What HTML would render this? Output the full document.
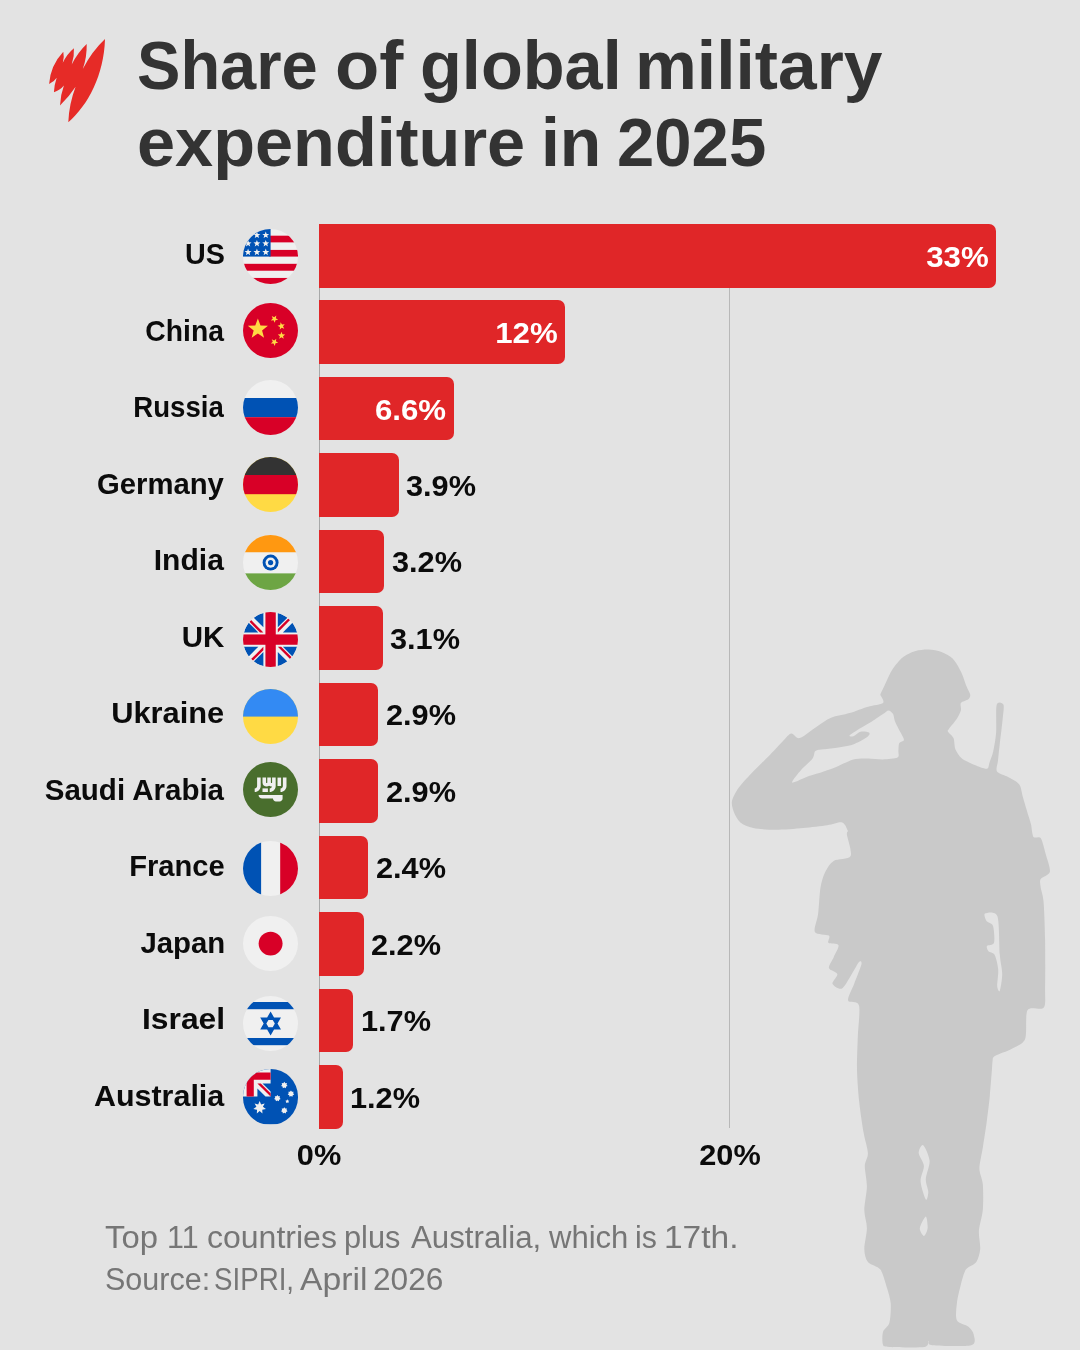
<!DOCTYPE html>
<html lang="en">
<head>
<meta charset="utf-8">
<title>Share of global military expenditure in 2025</title>
<style>
html,body{margin:0;padding:0}
body{width:1080px;height:1350px;position:relative;overflow:hidden;background:#e3e3e3;font-family:"Liberation Sans",sans-serif;}
.abs{position:absolute}
h1,p{margin:0;padding:0;font:inherit}
.t{position:absolute;white-space:nowrap;line-height:1;display:block}
.title{font-size:69px;font-weight:700;color:#333;transform-origin:0 50%;transform:scaleX(.9762)}
.name{font-weight:700;font-size:29.5px;color:#0b0b0b;right:856px;transform-origin:100% 50%;text-align:right}
.val{font-weight:700;font-size:29.3px;color:#0b0b0b;transform-origin:0 50%;transform:scaleX(1.048)}
.val.in{color:#fff;font-size:30.3px;transform-origin:100% 50%;transform:scaleX(1.03)}
.bar{position:absolute;left:319.0px;height:63.7px;background:#e02628;border-radius:0 7px 7px 0}
.grid{position:absolute;width:1px;background:#b8b8b8}
.axis{font-weight:700;font-size:29.3px;color:#0b0b0b;text-align:center;width:120px;transform:scaleX(1.048)}
.foot{font-size:31px;color:#767676;transform-origin:0 50%}
.flag{position:absolute;width:55.2px;height:55.2px;border-radius:50%;overflow:hidden}
.flag svg{display:block;width:100%;height:100%}
</style>
</head>
<body>
<svg class="abs" style="left:0;top:0" width="1080" height="1350" viewBox="0 0 1080 1350"><path fill="#c9c9c9" fill-rule="evenodd" d="M880.4,694.6C881.1,692.7 884.2,686.2 885.9,682.6C887.6,679.0 890.0,673.2 892.4,669.6C894.8,666.0 899.3,660.2 902.6,657.6C905.9,655.0 911.9,652.2 915.6,651.1C919.3,650.0 924.8,649.5 928.5,649.6C932.2,649.7 938.1,650.7 941.5,652.0C944.9,653.3 949.8,655.7 952.6,658.5C955.4,661.3 958.9,667.5 960.9,671.5C962.9,675.5 965.2,683.0 966.5,686.3C967.8,689.6 969.9,692.7 970.2,694.6C970.5,696.5 969.6,698.1 968.3,699.3C967.0,700.5 962.0,701.4 960.9,703.0C959.8,704.6 961.6,708.0 960.9,710.4C960.2,712.8 958.0,717.0 956.3,719.6C954.6,722.2 950.1,727.2 948.9,728.9C947.7,730.6 947.3,730.4 948.0,731.7C948.7,733.0 952.4,735.6 953.5,738.1C954.6,740.6 954.2,746.4 955.4,749.3C956.6,752.2 959.1,756.3 961.9,758.5C964.7,760.7 971.2,763.5 974.8,765.0C978.4,766.5 984.8,769.1 986.9,768.7C989.0,768.3 988.7,764.7 989.6,762.2C990.5,759.7 992.4,755.3 993.3,751.1C994.2,746.9 995.6,739.2 996.1,732.6C996.6,726.0 995.6,708.8 996.7,704.8C997.8,700.8 1002.7,702.7 1003.5,704.8C1004.3,706.9 1003.1,714.0 1002.6,719.6C1002.1,725.2 1000.5,737.9 999.8,743.7C999.1,749.5 998.4,756.4 998.0,760.4C997.6,764.4 995.6,769.1 997.0,771.5C998.4,773.9 1004.9,775.2 1008.1,777.0C1011.3,778.8 1017.2,781.5 1019.3,784.4C1021.4,787.3 1021.7,792.9 1023.0,797.4C1024.3,801.9 1027.3,812.0 1028.5,815.9C1029.7,819.8 1030.4,821.8 1031.1,824.8C1031.8,827.8 1032.1,835.0 1033.5,836.9C1034.9,838.8 1039.0,835.7 1040.7,838.1C1042.4,840.5 1044.3,848.9 1045.6,853.7C1046.9,858.5 1050.6,868.2 1049.9,871.8C1049.2,875.4 1042.0,876.8 1040.7,879.0C1039.4,881.2 1040.3,884.1 1040.7,887.4C1041.1,890.7 1043.0,894.3 1043.6,901.9C1044.2,909.5 1044.9,928.0 1045.1,940.4C1045.3,952.8 1045.3,978.9 1045.1,988.5C1044.9,998.1 1046.1,1004.7 1043.6,1007.8C1041.1,1010.9 1030.1,1005.7 1027.5,1010.2C1024.9,1014.7 1027.3,1033.6 1025.1,1039.1C1022.9,1044.6 1016.2,1046.3 1011.9,1048.7C1007.6,1051.1 997.8,1054.2 995.0,1055.9C992.2,1057.6 993.0,1058.7 992.6,1060.7C992.2,1062.7 992.3,1065.0 991.9,1070.0C991.5,1075.0 990.5,1088.5 989.8,1095.9C989.1,1103.3 987.7,1114.5 986.7,1121.9C985.7,1129.3 983.8,1141.1 982.8,1147.8C981.8,1154.5 979.4,1163.3 979.4,1168.5C979.4,1173.7 982.3,1178.2 982.8,1184.1C983.3,1190.0 983.4,1203.3 982.8,1210.0C982.2,1216.7 979.3,1225.1 978.9,1230.7C978.5,1236.3 980.6,1244.4 980.2,1248.9C979.8,1253.4 978.3,1258.9 976.3,1261.9C974.3,1264.9 968.1,1266.3 965.9,1269.6C963.7,1272.9 962.0,1280.4 960.7,1285.2C959.4,1290.0 957.4,1298.3 956.9,1303.3C956.4,1308.3 955.2,1316.9 956.9,1320.2C958.6,1323.5 966.1,1324.7 968.5,1326.7C970.9,1328.7 973.3,1331.8 973.7,1334.5C974.1,1337.2 977.0,1343.8 971.1,1345.3C965.2,1346.8 938.3,1345.9 932.2,1345.3C926.1,1344.7 929.4,1340.7 928.3,1340.9C927.2,1341.1 930.0,1346.0 924.4,1346.9C918.8,1347.8 895.3,1347.2 889.4,1346.9C883.5,1346.6 883.9,1346.9 883.0,1344.8C882.1,1342.7 882.1,1335.0 883.0,1331.9C883.9,1328.8 888.3,1326.9 889.4,1322.8C890.5,1318.7 891.1,1308.3 890.7,1303.3C890.3,1298.3 888.4,1292.6 886.9,1287.8C885.4,1283.0 883.1,1273.3 880.4,1269.6C877.7,1265.9 870.2,1264.9 867.9,1261.9C865.6,1258.9 864.4,1253.7 864.3,1248.9C864.2,1244.1 866.9,1233.8 866.9,1228.2C866.9,1222.6 864.3,1215.9 864.3,1210.0C864.3,1204.1 866.8,1193.0 866.9,1186.7C867.0,1180.4 864.7,1170.7 864.8,1165.9C864.9,1161.1 868.1,1157.8 867.9,1153.0C867.7,1148.2 864.8,1139.6 863.5,1132.2C862.2,1124.8 860.0,1110.0 859.1,1101.1C858.2,1092.2 857.2,1079.2 857.0,1070.0C856.8,1060.8 857.5,1045.9 857.8,1036.7C858.1,1027.5 860.4,1010.6 859.0,1005.4C857.6,1000.2 848.8,1003.7 848.1,1000.6C847.4,997.5 852.3,988.9 854.2,983.7C856.1,978.5 860.7,967.5 861.4,964.4C862.1,961.3 860.4,960.6 859.0,962.0C857.6,963.4 854.2,970.3 851.8,974.1C849.4,977.9 844.9,987.1 842.1,988.5C839.3,989.9 833.2,985.8 832.5,983.7C831.8,981.6 837.8,976.3 837.3,974.1C836.8,971.9 829.4,970.5 828.9,968.1C828.4,965.7 832.3,960.5 833.7,957.2C835.1,953.9 839.3,947.3 838.5,945.2C837.7,943.1 829.8,944.2 828.4,942.8C827.0,941.4 830.8,937.2 828.9,935.6C827.0,934.0 816.4,935.0 814.9,931.9C813.4,928.8 817.3,920.3 818.1,913.9C818.9,907.5 819.5,893.4 820.5,887.4C821.5,881.4 823.4,875.6 825.3,871.8C827.2,868.0 830.1,863.1 833.7,860.9C837.3,858.7 848.7,859.9 850.6,856.1C852.5,852.3 847.3,838.0 846.9,834.4C846.5,830.8 848.5,832.4 847.8,830.7C847.1,829.0 845.1,823.2 842.2,822.4C839.3,821.6 833.0,824.4 827.4,825.2C821.8,826.0 810.7,827.3 803.3,828.0C795.9,828.7 782.7,829.8 775.6,829.8C768.5,829.8 758.3,829.1 753.3,828.0C748.3,826.9 743.2,824.7 740.4,822.4C737.6,820.1 735.1,815.2 733.9,812.2C732.7,809.2 731.3,804.5 732.0,801.1C732.7,797.7 735.7,792.1 738.5,788.1C741.3,784.1 747.3,777.8 751.5,773.3C755.7,768.8 763.6,761.3 768.1,756.7C772.6,752.1 779.7,744.2 783.0,740.9C786.3,737.6 788.9,733.9 791.3,733.5C793.7,733.1 796.0,739.0 799.6,738.1C803.2,737.2 811.8,729.9 816.3,727.0C820.8,724.1 826.3,719.8 831.1,717.8C835.9,715.8 844.3,714.7 849.6,713.1C854.9,711.5 863.3,708.1 868.1,706.7C872.9,705.3 881.2,704.6 883.0,703.0C884.8,701.4 881.1,696.8 880.7,695.6C880.3,694.4 879.7,696.5 880.4,694.6Z M888.5,710.4C889.9,710.4 892.2,712.5 893.1,714.1C894.0,715.7 893.9,718.9 895.0,721.5C896.1,724.1 899.3,730.0 900.6,732.6C901.9,735.2 904.1,738.5 903.9,740.0C903.7,741.5 900.0,741.7 899.2,743.3C898.4,744.9 898.6,749.1 898.4,751.1C898.2,753.1 899.7,756.4 897.5,757.6C895.3,758.8 887.2,759.3 883.0,759.4C878.8,759.5 872.3,758.5 868.1,758.5C863.9,758.5 857.5,758.3 853.3,759.4C849.1,760.5 842.7,764.2 838.5,765.9C834.3,767.6 827.9,770.0 823.7,771.5C819.5,773.0 813.4,774.5 808.9,776.1C804.4,777.7 793.3,783.5 792.2,782.6C791.1,781.7 798.6,773.0 801.5,769.6C804.4,766.2 810.6,761.1 812.6,758.5C814.6,755.9 813.8,752.4 815.4,751.1C817.0,749.8 820.4,749.8 823.7,749.3C827.0,748.8 834.8,747.9 838.5,747.4C842.2,746.9 846.4,746.5 849.6,745.6C852.8,744.7 858.1,742.2 860.7,740.9C863.3,739.6 866.9,737.5 868.1,736.3C869.3,735.1 870.2,733.3 869.1,732.6C868.0,731.9 863.0,731.2 860.7,731.7C858.4,732.2 854.9,735.8 853.3,736.3C851.7,736.8 848.5,736.6 849.6,735.4C850.7,734.2 857.5,730.0 860.7,728.0C863.9,726.0 868.7,723.5 871.9,721.5C875.1,719.5 880.6,715.7 883.0,714.1C885.4,712.5 887.1,710.4 888.5,710.4Z M985.0,913.5C986.6,912.8 995.3,910.4 997.4,916.3C999.5,922.2 999.1,946.5 999.8,954.8C1000.5,963.1 1002.2,968.9 1002.2,974.1C1002.2,979.3 1000.5,989.2 999.8,990.9C999.1,992.6 997.4,989.2 997.2,986.1C997.0,983.0 998.6,973.8 998.2,969.3C997.8,964.8 996.0,957.4 994.6,954.8C993.2,952.2 989.6,952.5 988.5,951.2C987.4,949.9 986.2,947.2 987.0,946.0C987.8,944.8 993.1,945.7 994.0,942.8C994.9,939.9 994.1,929.0 993.0,925.9C991.9,922.8 987.6,922.9 986.5,921.1C985.4,919.3 983.4,914.2 985.0,913.5Z M923.2,1145.2C924.8,1146.3 929.2,1155.9 929.6,1160.7C930.0,1165.5 926.0,1174.4 925.8,1178.9C925.6,1183.4 928.3,1188.9 928.3,1191.9C928.3,1194.9 926.9,1201.1 925.8,1199.6C924.7,1198.1 920.9,1186.3 920.6,1181.5C920.3,1176.7 924.2,1170.0 923.9,1165.9C923.6,1161.8 918.8,1156.0 918.7,1153.0C918.6,1150.0 921.6,1144.1 923.2,1145.2Z M925.8,1216.5C926.9,1216.5 927.9,1225.4 927.6,1228.2C927.3,1231.0 925.0,1235.9 923.9,1235.9C922.8,1235.9 919.5,1231.0 919.8,1228.2C920.1,1225.4 924.7,1216.5 925.8,1216.5Z"/></svg>
<svg class="abs" style="left:0;top:0" width="160" height="160" viewBox="0 0 160 160"><g fill="#e62b27"><path d="M63.3,51.7Q64.5,57 62.8,62.8Q67,54 73.9,48.3Q74.5,56 71.7,64.4Q78,52 86.7,43.9Q87,57 82.8,68.9Q92,51 105,38.9C104,75 88,105 68.3,122.2Q69,104 75.6,86.7Q69.5,96 60,105.6Q60.5,95 63.9,85.6Q60,90.5 53.9,92.2Q54.2,85 56.7,77.8Q54,82 49.1,83.9Q50.5,65.3 63.3,51.7Z"/></g></svg>
<h1><span class="t title" style="left:137.17px;top:31.4px;transform:scaleX(0.9425)">Share</span> <span class="t title" style="left:335.37px;top:31.4px;transform:scaleX(1.0512)">of</span> <span class="t title" style="left:420.35px;top:31.4px;transform:scaleX(0.9931)">global</span> <span class="t title" style="left:634.54px;top:31.4px;transform:scaleX(1.0081)">military</span>
<span class="t title" style="left:136.63px;top:107.5px;transform:scaleX(0.9926)">expenditure</span> <span class="t title" style="left:541.34px;top:107.5px;transform:scaleX(0.9844)">in</span> <span class="t title" style="left:617.36px;top:107.5px;transform:scaleX(0.9719)">2025</span></h1>
<div class="grid" style="left:729px;top:224px;height:904px"></div>
<div class="grid" style="left:319px;top:224px;height:905px;background:#a8a8a8"></div>

<div class="bar" style="top:223.9px;width:677.3px"></div>
<div class="t name" style="top:239.3px;right:855.3px;transform:scaleX(0.974)">US</div>
<div class="flag" style="left:242.9px;top:229.2px"><svg viewBox="0 0 512 512"><rect width="512" height="512" fill="#f0f0f0"/>
<g fill="#d80027"><rect x="244" y="62" width="268" height="62"/><rect x="244" y="194" width="268" height="62"/><rect x="0" y="323" width="512" height="64"/><rect x="0" y="454" width="512" height="58"/></g>
<rect width="256" height="256" fill="#0052b4"/>
<g fill="#f0f0f0"><polygon points="47.0,23.0 55.4,45.4 79.3,46.5 60.6,61.4 67.0,84.5 47.0,71.3 27.0,84.5 33.4,61.4 14.7,46.5 38.6,45.4"/><polygon points="129.0,23.0 137.4,45.4 161.3,46.5 142.6,61.4 149.0,84.5 129.0,71.3 109.0,84.5 115.4,61.4 96.7,46.5 120.6,45.4"/><polygon points="211.0,23.0 219.4,45.4 243.3,46.5 224.6,61.4 231.0,84.5 211.0,71.3 191.0,84.5 197.4,61.4 178.7,46.5 202.6,45.4"/><polygon points="47.0,101.0 55.4,123.4 79.3,124.5 60.6,139.4 67.0,162.5 47.0,149.3 27.0,162.5 33.4,139.4 14.7,124.5 38.6,123.4"/><polygon points="129.0,101.0 137.4,123.4 161.3,124.5 142.6,139.4 149.0,162.5 129.0,149.3 109.0,162.5 115.4,139.4 96.7,124.5 120.6,123.4"/><polygon points="211.0,101.0 219.4,123.4 243.3,124.5 224.6,139.4 231.0,162.5 211.0,149.3 191.0,162.5 197.4,139.4 178.7,124.5 202.6,123.4"/><polygon points="47.0,181.0 55.4,203.4 79.3,204.5 60.6,219.4 67.0,242.5 47.0,229.3 27.0,242.5 33.4,219.4 14.7,204.5 38.6,203.4"/><polygon points="129.0,181.0 137.4,203.4 161.3,204.5 142.6,219.4 149.0,242.5 129.0,229.3 109.0,242.5 115.4,219.4 96.7,204.5 120.6,203.4"/><polygon points="211.0,181.0 219.4,203.4 243.3,204.5 224.6,219.4 231.0,242.5 211.0,229.3 191.0,242.5 197.4,219.4 178.7,204.5 202.6,203.4"/></g></svg></div>
<div class="t val in" style="right:91.2px;top:241.65px">33%</div>
<div class="bar" style="top:300.4px;width:246.0px"></div>
<div class="t name" style="top:315.8px;right:856.0px;transform:scaleX(0.959)">China</div>
<div class="flag" style="left:242.9px;top:302.7px"><svg viewBox="0 0 512 512"><rect width="512" height="512" fill="#d80027"/>
<g fill="#ffda44"><polygon points="138.0,144.0 162.2,208.7 231.2,211.7 177.1,254.7 195.6,321.3 138.0,283.2 80.4,321.3 98.9,254.7 44.8,211.7 113.8,208.7"/><polygon points="309.0,116.8 304.8,141.9 326.2,155.5 301.1,159.2 294.8,183.8 283.4,161.1 258.1,162.6 276.2,144.9 266.9,121.2 289.4,133.0"/><polygon points="387.2,196.0 371.0,215.6 382.8,238.1 359.1,228.8 341.4,246.9 342.9,221.6 320.2,210.2 344.8,203.9 348.5,178.8 362.1,200.2"/><polygon points="357.0,267.0 365.9,290.8 391.2,291.9 371.4,307.7 378.2,332.1 357.0,318.1 335.8,332.1 342.6,307.7 322.8,291.9 348.1,290.8"/><polygon points="309.0,330.8 304.8,355.9 326.2,369.5 301.1,373.2 294.8,397.8 283.4,375.1 258.1,376.6 276.2,358.9 266.9,335.2 289.4,347.0"/></g></svg></div>
<div class="t val in" style="right:522.5px;top:318.12px">12%</div>
<div class="bar" style="top:376.8px;width:134.8px"></div>
<div class="t name" style="top:392.2px;right:856.0px;transform:scaleX(0.935)">Russia</div>
<div class="flag" style="left:242.9px;top:379.9px"><svg viewBox="0 0 512 512"><rect width="512" height="512" fill="#f0f0f0"/><rect y="167" width="512" height="178" fill="#0052b4"/><rect y="345" width="512" height="167" fill="#d80027"/></svg></div>
<div class="t val in" style="right:633.7px;top:394.59px">6.6%</div>
<div class="bar" style="top:453.3px;width:79.7px"></div>
<div class="t name" style="top:468.7px;right:856.0px;transform:scaleX(0.992)">Germany</div>
<div class="flag" style="left:242.9px;top:456.9px"><svg viewBox="0 0 512 512"><rect width="512" height="512" fill="#ffda44"/><rect width="512" height="167" fill="#333"/><rect y="167" width="512" height="178" fill="#d80027"/></svg></div>
<div class="t val" style="left:406.2px;top:470.7px">3.9%</div>
<div class="bar" style="top:529.8px;width:65.3px"></div>
<div class="t name" style="top:545.2px;right:856.0px;transform:scaleX(1.018)">India</div>
<div class="flag" style="left:242.9px;top:535.2px"><svg viewBox="0 0 512 512"><rect width="512" height="512" fill="#f0f0f0"/><rect width="512" height="160" fill="#ff9811"/><rect y="356" width="512" height="156" fill="#6da544"/>
<circle cx="256" cy="256" r="74" fill="#0052b4"/><circle cx="256" cy="256" r="47" fill="#f0f0f0"/><circle cx="256" cy="256" r="24" fill="#0052b4"/></svg></div>
<div class="t val" style="left:391.8px;top:547.2px">3.2%</div>
<div class="bar" style="top:606.2px;width:63.5px"></div>
<div class="t name" style="top:621.6px;right:855.6px;transform:scaleX(1.0)">UK</div>
<div class="flag" style="left:242.9px;top:611.7px"><svg viewBox="0 0 512 512"><rect width="512" height="512" fill="#f0f0f0"/>
<g fill="#0052b4">
<path d="M52.9,100.1c-20.1,26.2-35.3,56.3-44.1,89.1h133.2L52.9,100.1z"/>
<path d="M503.2,189.2c-8.8-32.8-24-62.9-44.1-89.1l-89.1,89.1H503.2z"/>
<path d="M8.8,322.8c8.8,32.8,24,62.9,44.1,89.1l89.1-89.1H8.8z"/>
<path d="M411.9,52.9c-26.2-20.1-56.3-35.3-89.1-44.1v133.2L411.9,52.9z"/>
<path d="M100.1,459.1c26.2,20.1,56.3,35.3,89.1,44.1V370L100.1,459.1z"/>
<path d="M189.2,8.8c-32.8,8.8-62.9,24-89.1,44.1l89.1,89.1V8.8z"/>
<path d="M322.8,503.2c32.8-8.8,62.9-24,89.1-44.1l-89.1-89.1V503.2z"/>
<path d="M370,322.8l89.1,89.1c20.1-26.2,35.3-56.3,44.1-89.1H370z"/>
</g>
<g fill="#d80027">
<rect x="208" y="0" width="96" height="512"/><rect x="0" y="208" width="512" height="96"/>
<path d="M322.8,322.8L437,437c5.3-5.3,10.3-10.7,15-16.4l-97.8-97.8H322.8z"/>
<path d="M189.2,322.8L75,437c5.3,5.3,10.7,10.3,16.4,15l97.8-97.8V322.8z"/>
<path d="M189.2,189.2L75,75c-5.3,5.3-10.3,10.7-15,16.4l97.8,97.8H189.2z"/>
<path d="M322.8,189.2L437,75c-5.3-5.3-10.7-10.3-16.4-15l-97.8,97.8V189.2z"/>
</g></svg></div>
<div class="t val" style="left:390.0px;top:623.6px">3.1%</div>
<div class="bar" style="top:682.7px;width:59.0px"></div>
<div class="t name" style="top:698.1px;right:855.6px;transform:scaleX(1.045)">Ukraine</div>
<div class="flag" style="left:242.9px;top:689.1px"><svg viewBox="0 0 512 512"><rect width="512" height="512" fill="#ffda44"/><rect width="512" height="256" fill="#338af3"/></svg></div>
<div class="t val" style="left:385.5px;top:700.1px">2.9%</div>
<div class="bar" style="top:759.2px;width:59.3px"></div>
<div class="t name" style="top:774.6px;right:856.0px;transform:scaleX(1.0)">Saudi Arabia</div>
<div class="flag" style="left:242.9px;top:762.0px"><svg viewBox="0 0 512 512"><rect width="512" height="512" fill="#496e2d"/>
<g fill="#f0f0f0">
<path d="M144.7,306.1c0,18.4,15,33.4,33.4,33.4h100.2c0,15.4,12.5,27.8,27.8,27.8h33.4c15.4,0,27.8-12.5,27.8-27.8v-33.4H144.7z"/>
<path d="M370.1,144.7v77.9c0,12.3-10,22.3-22.3,22.3v33.4c30.7,0,55.7-25,55.7-55.7v-77.9H370.1z"/>
<path d="M130.8,222.6c0,12.3-10,22.3-22.3,22.3v33.4c30.7,0,55.7-25,55.7-55.7v-77.9h-33.4V222.6z"/>
<rect x="320" y="144.7" width="33.4" height="77.9"/>
<path d="M269.9,189.2c0,3.1-2.5,5.6-5.6,5.6s-5.6-2.5-5.6-5.6v-44.5h-33.4v44.5c0,3.1-2.5,5.6-5.6,5.6s-5.6-2.5-5.6-5.6v-44.5h-33.4v44.5c0,21.5,17.5,39,39,39c8.3,0,15.9-2.6,22.3-7c6.3,4.4,14,7,22.3,7c1.7,0,3.3-0.1,4.9-0.3c-2.4,9.7-11.1,17-21.6,17v33.4c30.7,0,55.7-25,55.7-55.7v-33.4v-44.5h-33.4V189.2z"/>
<rect x="180.9" y="244.9" width="50.1" height="33.4"/>
</g></svg></div>
<div class="t val" style="left:385.8px;top:776.6px">2.9%</div>
<div class="bar" style="top:835.7px;width:49.0px"></div>
<div class="t name" style="top:851.1px;right:855.4px;transform:scaleX(0.988)">France</div>
<div class="flag" style="left:242.9px;top:841.0px"><svg viewBox="0 0 512 512"><rect width="512" height="512" fill="#f0f0f0"/><rect width="168" height="512" fill="#0052b4"/><rect x="345" width="167" height="512" fill="#d80027"/></svg></div>
<div class="t val" style="left:375.5px;top:853.1px">2.4%</div>
<div class="bar" style="top:912.1px;width:44.9px"></div>
<div class="t name" style="top:927.5px;right:854.3px;transform:scaleX(0.995)">Japan</div>
<div class="flag" style="left:242.9px;top:915.7px"><svg viewBox="0 0 512 512"><rect width="512" height="512" fill="#f0f0f0"/><circle cx="256" cy="256" r="111" fill="#d80027"/></svg></div>
<div class="t val" style="left:371.4px;top:929.5px">2.2%</div>
<div class="bar" style="top:988.6px;width:34.4px"></div>
<div class="t name" style="top:1004.0px;right:854.5px;transform:scaleX(1.078)">Israel</div>
<div class="flag" style="left:242.9px;top:995.5px"><svg viewBox="0 0 512 512"><rect width="512" height="512" fill="#f0f0f0"/>
<g fill="#0052b4"><rect y="55.7" width="512" height="66.8"/><rect y="389.6" width="512" height="66.8"/>
<path fill-rule="evenodd" d="M352.4,200.3H288.1L256,144.7l-32.1,55.7h-64.3L191.7,256l-32.1,55.7h64.3L256,367.3l32.1-55.7h64.3L320.3,256L352.4,200.3z M295.5,256l-19.7,34.2h-39.5L216.5,256l19.7-34.2h39.5L295.5,256z"/></g></svg></div>
<div class="t val" style="left:360.9px;top:1006.0px">1.7%</div>
<div class="bar" style="top:1065.1px;width:23.9px"></div>
<div class="t name" style="top:1080.5px;right:856.0px;transform:scaleX(1.032)">Australia</div>
<div class="flag" style="left:242.9px;top:1069.4px"><svg viewBox="0 0 512 512"><rect width="512" height="512" fill="#0052b4"/>
<path fill="#f0f0f0" d="M0,0H256V133.6H180.8L256,208.8V256H208.8L133.6,180.8V256H0z"/>
<g fill="#d80027"><path d="M33.4,33.4H256V100.2H100.2V256H33.4z"/><path d="M256,224.5l-91-91h-31.5L256,256z"/></g>
<g fill="#f0f0f0"><polygon points="154.4,298.0 167.9,330.1 201.3,320.6 184.6,351.1 212.9,371.4 178.6,377.3 180.4,412.1 154.4,389.0 128.4,412.1 130.2,377.3 95.9,371.4 124.2,351.1 107.5,320.6 140.9,330.1"/><polygon points="383.3,355.0 392.4,367.1 407.5,366.7 403.8,381.3 413.5,392.9 399.7,399.1 396.8,413.9 383.3,407.0 369.8,413.9 366.9,399.1 353.1,392.9 362.8,381.3 359.1,366.7 374.2,367.1"/><polygon points="319.0,241.0 328.1,253.1 343.2,252.7 339.5,267.3 349.2,278.9 335.4,285.1 332.5,299.9 319.0,293.0 305.5,299.9 302.6,285.1 288.8,278.9 298.5,267.3 294.8,252.7 309.9,253.1"/><polygon points="383.3,119.0 392.4,131.1 407.5,130.7 403.8,145.3 413.5,156.9 399.7,163.1 396.8,177.9 383.3,171.0 369.8,177.9 366.9,163.1 353.1,156.9 362.8,145.3 359.1,130.7 374.2,131.1"/><polygon points="445.0,199.0 454.1,211.1 469.2,210.7 465.5,225.3 475.2,236.9 461.4,243.1 458.5,257.9 445.0,251.0 431.5,257.9 428.6,243.1 414.8,236.9 424.5,225.3 420.8,210.7 435.9,211.1"/><polygon points="411.0,281.0 417.5,291.1 429.1,294.1 421.5,303.4 422.2,315.4 411.0,311.0 399.8,315.4 400.5,303.4 392.9,294.1 404.5,291.1"/></g></svg></div>
<div class="t val" style="left:350.4px;top:1082.5px">1.2%</div>
<div class="t axis" style="left:259px;top:1140.4px">0%</div>
<div class="t axis" style="left:669.5px;top:1140.4px">20%</div>
<p><span class="t foot" style="left:105.44px;top:1222.2px;transform:scaleX(1.0588)">Top</span> <span class="t foot" style="left:166.55px;top:1222.2px;transform:scaleX(0.9809)">11</span> <span class="t foot" style="left:206.76px;top:1222.2px;transform:scaleX(1.0326)">countries</span> <span class="t foot" style="left:344.38px;top:1222.2px;transform:scaleX(0.9915)">plus</span> <span class="t foot" style="left:410.81px;top:1222.2px;transform:scaleX(1.0077)">Australia,</span> <span class="t foot" style="left:549.19px;top:1222.2px;transform:scaleX(1.0017)">which</span> <span class="t foot" style="left:635.43px;top:1222.2px;transform:scaleX(0.9755)">is</span> <span class="t foot" style="left:663.56px;top:1222.2px;transform:scaleX(1.08)">17th.</span>
<span class="t foot" style="left:104.5px;top:1264.4px;transform:scaleX(0.9845)">Source:</span> <span class="t foot" style="left:214.22px;top:1264.4px;transform:scaleX(0.8935)">SIPRI,</span> <span class="t foot" style="left:300.12px;top:1264.4px;transform:scaleX(1.0878)">April</span> <span class="t foot" style="left:372.74px;top:1264.4px;transform:scaleX(1.0203)">2026</span></p>
</body>
</html>
